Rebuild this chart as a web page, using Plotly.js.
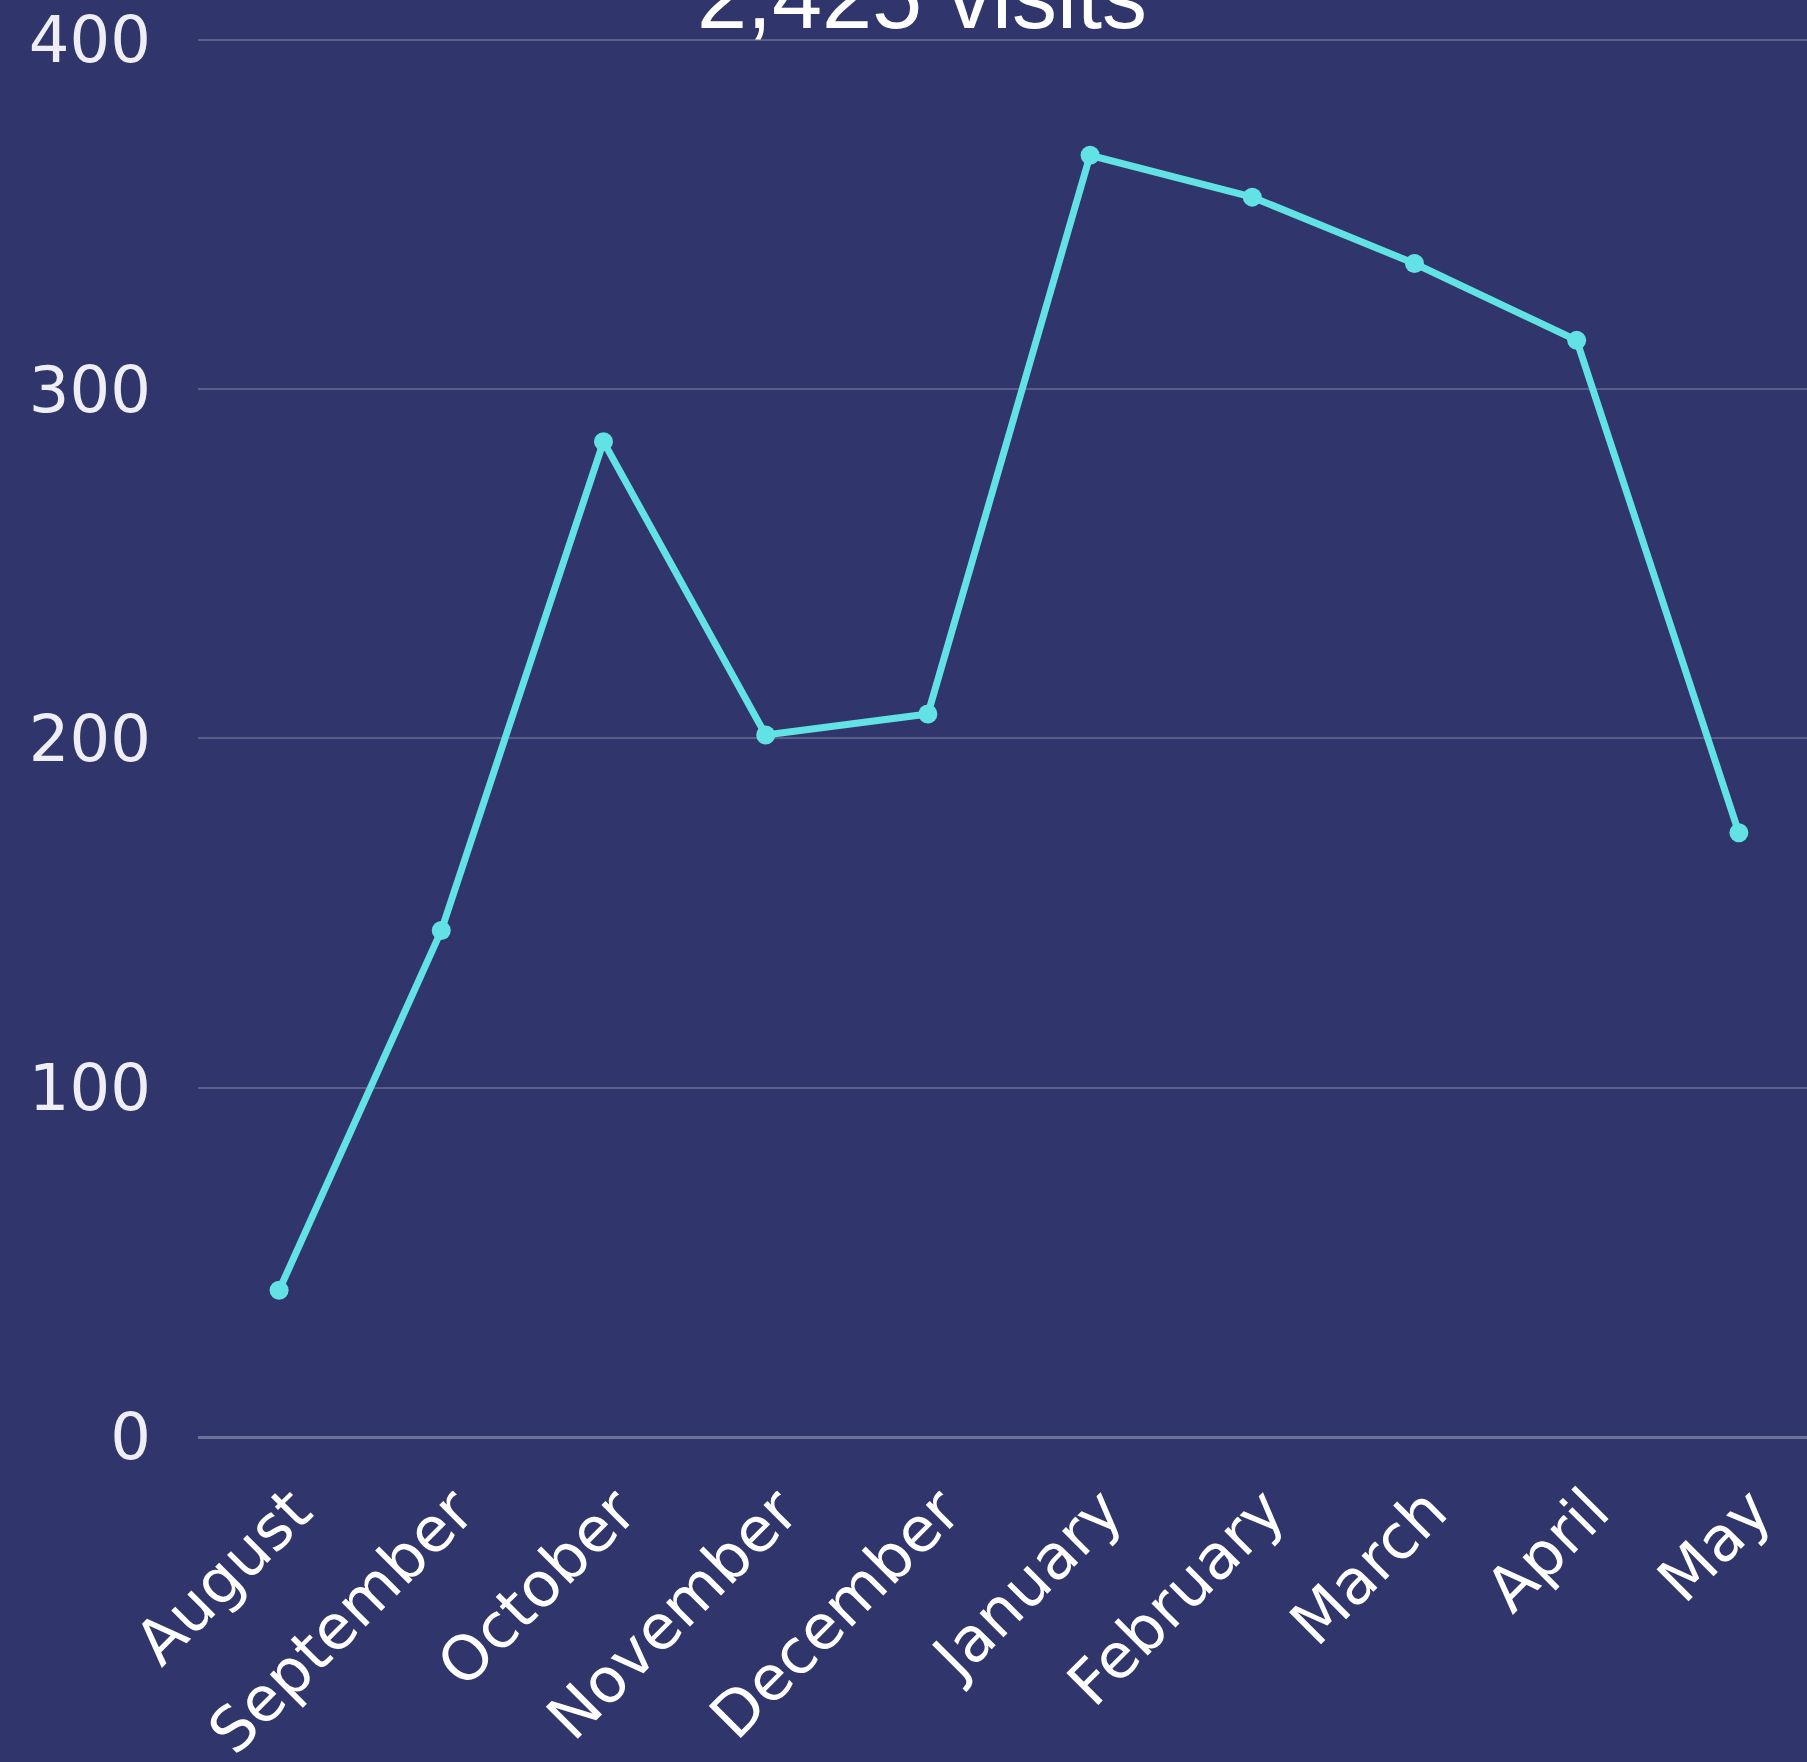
<!DOCTYPE html>
<html>
<head>
<meta charset="utf-8">
<script src="https://cdn.plot.ly/plotly-3.0.1.min.js"></script>
<style>
  html, body { margin: 0; padding: 0; background: #30356b; }
  #chart { width: 1807px; height: 1762px; }
</style>
</head>
<body>
<div id="chart"></div>
<script>
const months = ["August", "September", "October", "November", "December", "January", "February", "March", "April", "May"];
const visits = [42, 145, 285, 201, 207, 367, 355, 336, 314, 173];
const yTicks = [0, 100, 200, 300, 400];
const titleText = "2,425 visits";

const trace = {
  type: "scatter",
  mode: "lines+markers",
  x: months,
  y: visits,
  line: { color: "#62e2e4", width: 7 },
  marker: { color: "#62e2e4", size: 19 },
  hoverinfo: "x+y"
};

const layout = {
  width: 1807,
  height: 1762,
  paper_bgcolor: "#30356b",
  plot_bgcolor: "#30356b",
  margin: { l: 198, r: 0, t: 0, b: 325, pad: 0 },
  showlegend: false,
  title: {
    text: titleText,
    font: { family: "Liberation Sans, Arial, sans-serif", size: 90, color: "#ffffff" },
    xref: "container", x: 922 / 1807, xanchor: "center",
    yref: "container", y: 1 - 28 / 1762, yanchor: "bottom"
  },
  xaxis: {
    type: "category",
    range: [-0.5, 9.42],
    showgrid: false,
    zeroline: false,
    showline: false,
    ticks: "",
    tickangle: -45,
    ticklabelstandoff: 24,
    ticklabelshift: 14,
    tickfont: { family: "DejaVu Sans, sans-serif", size: 62, color: "#ffffff" }
  },
  yaxis: {
    range: [0, 411.45],
    tickvals: yTicks,
    ticktext: yTicks.map(String),
    showgrid: true,
    gridcolor: "rgba(255,255,255,0.2)",
    gridwidth: 2,
    zeroline: true,
    zerolinecolor: "rgba(255,255,255,0.3)",
    zerolinewidth: 3,
    showline: false,
    ticks: "",
    ticklabelstandoff: 46,
    tickfont: { family: "DejaVu Sans, sans-serif", size: 64, color: "#eeeef4" }
  }
};

Plotly.newPlot("chart", [trace], layout, { displayModeBar: false, staticPlot: true });
</script>
</body>
</html>
